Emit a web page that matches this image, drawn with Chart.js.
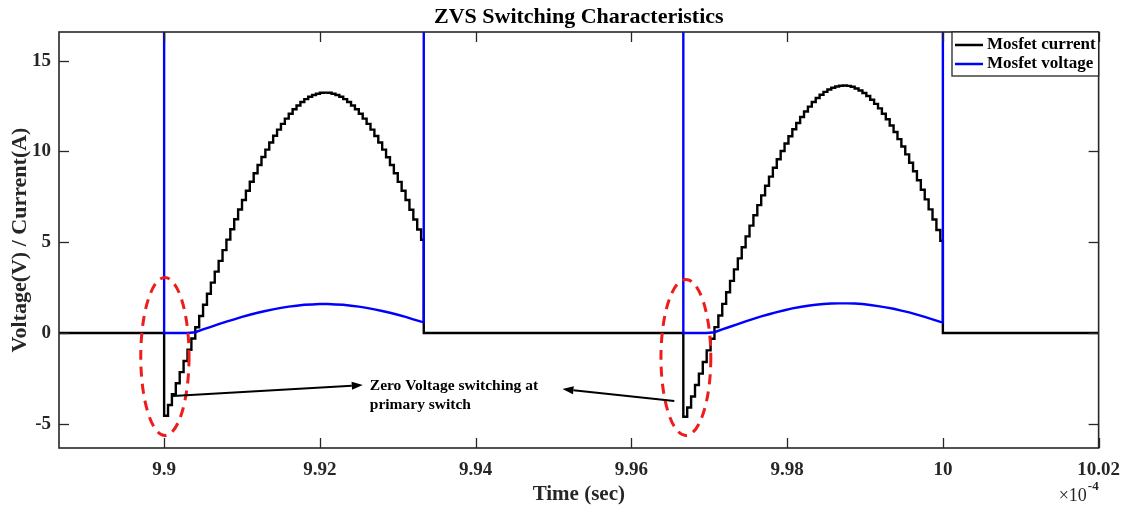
<!DOCTYPE html>
<html>
<head>
<meta charset="utf-8">
<title>ZVS Switching Characteristics</title>
<script src="https://cdn.jsdelivr.net/npm/chart.js@4.4.1/dist/chart.umd.min.js"></script>
<style>
    html, body { margin: 0; padding: 0; background: #fff; }
</style>
</head>
<body>
<canvas id="zvs" width="1123" height="513"></canvas>
<script>
/* Time axis, in units of 1e-4 s */
const timeMin = 9.8865;
const timeMax = 10.02;
const xTicks = [9.9, 9.92, 9.94, 9.96, 9.98, 10, 10.02];
const xTickLabels = ["9.9", "9.92", "9.94", "9.96", "9.98", "10", "10.02"];

const yMin = -6.34;
const yMax = 16.58;
const yTicks = [-5, 0, 5, 10, 15];
const yTickLabels = ["-5", "0", "5", "10", "15"];

/* Switching periods */
const pulseStart = [9.9, 9.96667];
const pulseEnd = [9.93334, 10.0];
const sampleStep = 0.0005;   // one stair per solver sample
const voltStep = 0.001;
const offVoltage = 100;      // blocking voltage, far above the plotted range

/* Mosfet current (A), one value per sample during each on-time */
const currentPulse1 = [
    -4.56, -3.97, -3.38, -2.77, -2.16, -1.55, -0.93, -0.31, 0.31, 0.93,
    1.55, 2.16, 2.77, 3.38, 3.97, 4.56, 5.14, 5.71, 6.26, 6.80,
    7.32, 7.83, 8.33, 8.80, 9.25, 9.69, 10.10, 10.49, 10.86, 11.20,
    11.52, 11.81, 12.08, 12.32, 12.53, 12.72, 12.88, 13.01, 13.11, 13.18,
    13.23, 13.24, 13.23, 13.18, 13.11, 13.01, 12.88, 12.72, 12.53, 12.32,
    12.08, 11.81, 11.52, 11.20, 10.85, 10.49, 10.10, 9.68, 9.25, 8.80,
    8.32, 7.83, 7.32, 6.79, 6.25, 5.70, 5.13
];
const currentPulse2 = [
    -4.62, -4.11, -3.50, -2.87, -2.24, -1.60, -0.96, -0.32, 0.32, 0.96,
    1.60, 2.24, 2.87, 3.50, 4.11, 4.72, 5.32, 5.91, 6.48, 7.04,
    7.58, 8.11, 8.61, 9.10, 9.57, 10.02, 10.44, 10.84, 11.22, 11.57,
    11.90, 12.20, 12.47, 12.72, 12.94, 13.12, 13.28, 13.41, 13.51, 13.58,
    13.62, 13.63, 13.61, 13.56, 13.47, 13.36, 13.22, 13.05, 12.85, 12.62,
    12.37, 12.08, 11.77, 11.43, 11.07, 10.68, 10.27, 9.84, 9.38, 8.91,
    8.41, 7.89, 7.36, 6.81, 6.25, 5.67, 5.08
];

/* Mosfet voltage (V) during each on-time */
const voltagePulse1 = [
    0, 0, 0, 0, 0.04, 0.19, 0.33, 0.48, 0.62, 0.75,
    0.88, 1.00, 1.11, 1.21, 1.30, 1.38, 1.45, 1.50, 1.55, 1.57,
    1.59, 1.59, 1.57, 1.55, 1.50, 1.45, 1.38, 1.30, 1.21, 1.11,
    1.00, 0.88, 0.75, 0.62
];
const voltagePulse2 = [
    0, 0, 0, 0, 0.04, 0.19, 0.34, 0.49, 0.64, 0.78,
    0.91, 1.03, 1.15, 1.25, 1.35, 1.43, 1.50, 1.55, 1.59, 1.62,
    1.63, 1.63, 1.62, 1.59, 1.54, 1.48, 1.41, 1.33, 1.23, 1.13,
    1.01, 0.88, 0.75, 0.61
];
const voltageEnd = [0.60, 0.59];

/* Notes: ZVS turn-on points and the arrows to them */
const zvsRings = [
    { x: 9.9001, y: -1.3, rx: 0.0031, ry: 4.35 },
    { x: 9.9670, y: -1.35, rx: 0.0032, ry: 4.3 }
];
const noteArrows = [
    { x0: 9.90115, y0: -3.47, x1: 9.92551, y1: -2.87 },
    { x0: 9.96551, y0: -3.75, x1: 9.95115, y1: -3.09 }
];
const noteLines = ["Zero Voltage switching at", "primary switch"];
const noteX = 9.92641;
const noteY = [-2.92, -3.97];

const serif = "'Liberation Serif', 'DejaVu Serif', serif";
const axisColor = "#262626";

/* Build the waveforms */
const currentPts = [{ x: timeMin, y: 0 }];
[currentPulse1, currentPulse2].forEach((vals, p) => {
    currentPts.push({ x: pulseStart[p], y: 0 });
    vals.forEach((v, k) => currentPts.push({ x: pulseStart[p] + k * sampleStep, y: v }));
    currentPts.push({ x: pulseEnd[p], y: 0 });
});
currentPts.push({ x: timeMax, y: 0 });

const voltagePts = [{ x: timeMin, y: offVoltage }];
[voltagePulse1, voltagePulse2].forEach((vals, p) => {
    voltagePts.push({ x: pulseStart[p], y: offVoltage });
    vals.forEach((v, k) => voltagePts.push({ x: pulseStart[p] + k * voltStep, y: v }));
    voltagePts.push({ x: pulseEnd[p], y: voltageEnd[p] });
    voltagePts.push({ x: pulseEnd[p], y: offVoltage });
});
voltagePts.push({ x: timeMax, y: offVoltage });

function line(ctx, x0, y0, x1, y1) {
    ctx.beginPath();
    ctx.moveTo(x0, y0);
    ctx.lineTo(x1, y1);
    ctx.stroke();
}

/* Box, inward ticks, exponent, notes and legend */
const decorations = {
    id: "decorations",
    afterDraw(chart) {
        const ctx = chart.ctx;
        const a = chart.chartArea;
        const sx = chart.scales.x;
        const sy = chart.scales.y;
        ctx.save();

        // red dashed rings
        ctx.strokeStyle = "#ee1c1c";
        ctx.lineWidth = 3;
        ctx.setLineDash([10, 7]);
        zvsRings.forEach(r => {
            const cx = sx.getPixelForValue(r.x);
            const cy = sy.getPixelForValue(r.y);
            const rx = Math.abs(sx.getPixelForValue(r.x + r.rx) - cx);
            const ry = Math.abs(sy.getPixelForValue(r.y + r.ry) - cy);
            ctx.beginPath();
            ctx.ellipse(cx, cy, rx, ry, 0, 0, Math.PI * 2);
            ctx.stroke();
        });
        ctx.setLineDash([]);

        // arrows
        ctx.strokeStyle = "#000";
        ctx.fillStyle = "#000";
        ctx.lineWidth = 2;
        noteArrows.forEach(n => {
            const x0 = sx.getPixelForValue(n.x0), y0 = sy.getPixelForValue(n.y0);
            const x1 = sx.getPixelForValue(n.x1), y1 = sy.getPixelForValue(n.y1);
            const ang = Math.atan2(y1 - y0, x1 - x0);
            const hl = 11, hw = 4;
            const bx = x1 - hl * Math.cos(ang), by = y1 - hl * Math.sin(ang);
            line(ctx, x0, y0, bx, by);
            ctx.beginPath();
            ctx.moveTo(x1, y1);
            ctx.lineTo(bx + hw * Math.sin(ang), by - hw * Math.cos(ang));
            ctx.lineTo(bx - hw * Math.sin(ang), by + hw * Math.cos(ang));
            ctx.closePath();
            ctx.fill();
        });

        // note text
        ctx.font = "bold 15.5px " + serif;
        ctx.textAlign = "left";
        ctx.textBaseline = "middle";
        noteLines.forEach((t, i) => {
            ctx.fillText(t, sx.getPixelForValue(noteX), sy.getPixelForValue(noteY[i]));
        });

        // ticks on all four sides, pointing inward
        ctx.strokeStyle = axisColor;
        ctx.lineWidth = 1.3;
        const tl = 10;
        sx.ticks.forEach(t => {
            const px = Math.round(sx.getPixelForValue(t.value)) + 0.5;
            line(ctx, px, a.bottom, px, a.bottom - tl);
            line(ctx, px, a.top, px, a.top + tl);
        });
        sy.ticks.forEach(t => {
            const py = Math.round(sy.getPixelForValue(t.value)) + 0.5;
            line(ctx, a.left, py, a.left + tl, py);
            line(ctx, a.right, py, a.right - tl, py);
        });

        // axes box
        ctx.lineWidth = 1.6;
        ctx.strokeRect(a.left, a.top, a.right - a.left, a.bottom - a.top);

        // x10^-4 exponent
        ctx.fillStyle = axisColor;
        ctx.textAlign = "right";
        ctx.font = "bold 13px " + serif;
        ctx.fillText("-4", a.right, 487);
        const supW = ctx.measureText("-4").width;
        ctx.font = "18px " + serif;
        ctx.fillText("\u00d710", a.right - supW - 1, 496);

        // legend
        const lx = 952, ly = a.top, lw = a.right - 952, lh = 44;
        ctx.fillStyle = "#fff";
        ctx.fillRect(lx, ly, lw, lh);
        ctx.strokeStyle = axisColor;
        ctx.lineWidth = 1.3;
        ctx.strokeRect(lx, ly, lw, lh);
        ctx.font = "bold 17px " + serif;
        ctx.textAlign = "left";
        chart.data.datasets.forEach((ds, i) => {
            const yy = ly + 13 + i * 19;
            ctx.strokeStyle = ds.borderColor;
            ctx.lineWidth = 2.5;
            line(ctx, lx + 3, yy, lx + 31, yy);
            ctx.fillStyle = "#000";
            ctx.fillText(ds.label, lx + 35, yy);
        });

        ctx.restore();
    }
};

new Chart(document.getElementById("zvs").getContext("2d"), {
    type: "line",
    data: {
        datasets: [{
            label: "Mosfet current",
            data: currentPts,
            borderColor: "#000000",
            borderWidth: 2.4,
            stepped: "before",
            pointRadius: 0,
            order: 1
        }, {
            label: "Mosfet voltage",
            data: voltagePts,
            borderColor: "#0000ff",
            borderWidth: 2.4,
            tension: 0,
            pointRadius: 0,
            order: 0
        }]
    },
    options: {
        responsive: false,
        animation: false,
        devicePixelRatio: 1,
        events: [],
        layout: { padding: { left: 0, top: 0, right: 23, bottom: 0 } },
        plugins: {
            legend: { display: false },
            tooltip: { enabled: false },
            title: {
                display: true,
                fullSize: false,
                text: "ZVS Switching Characteristics",
                color: "#000",
                font: { family: serif, size: 22, weight: "bold", lineHeight: 1.2 },
                padding: { top: 4, bottom: 1.6 }
            }
        },
        scales: {
            x: {
                type: "linear",
                min: timeMin,
                max: timeMax,
                afterBuildTicks: s => { s.ticks = xTicks.map(v => ({ value: v })); },
                afterFit: s => { s.height = 65; },
                grid: { display: false },
                border: { display: false },
                ticks: {
                    autoSkip: false,
                    maxRotation: 0,
                    padding: 3,
                    color: axisColor,
                    font: { family: serif, size: 19, weight: "bold" },
                    callback: (v, i) => xTickLabels[i]
                },
                title: {
                    display: true,
                    text: "Time (sec)",
                    color: axisColor,
                    font: { family: serif, size: 21, weight: "bold", lineHeight: 1.2 },
                    padding: { top: 0, bottom: 6 }
                }
            },
            y: {
                type: "linear",
                min: yMin,
                max: yMax,
                afterBuildTicks: s => { s.ticks = yTicks.map(v => ({ value: v })); },
                afterFit: s => { s.width = 59; },
                grid: { display: false },
                border: { display: false },
                ticks: {
                    padding: 0,
                    color: axisColor,
                    font: { family: serif, size: 19, weight: "bold" },
                    callback: (v, i) => yTickLabels[i]
                },
                title: {
                    display: true,
                    text: "Voltage(V) / Current(A)",
                    color: axisColor,
                    font: { family: serif, size: 22, weight: "bold", lineHeight: 1.2 },
                    padding: { top: 7, bottom: 0 }
                }
            }
        }
    },
    plugins: [decorations]
});
</script>
</body>
</html>
